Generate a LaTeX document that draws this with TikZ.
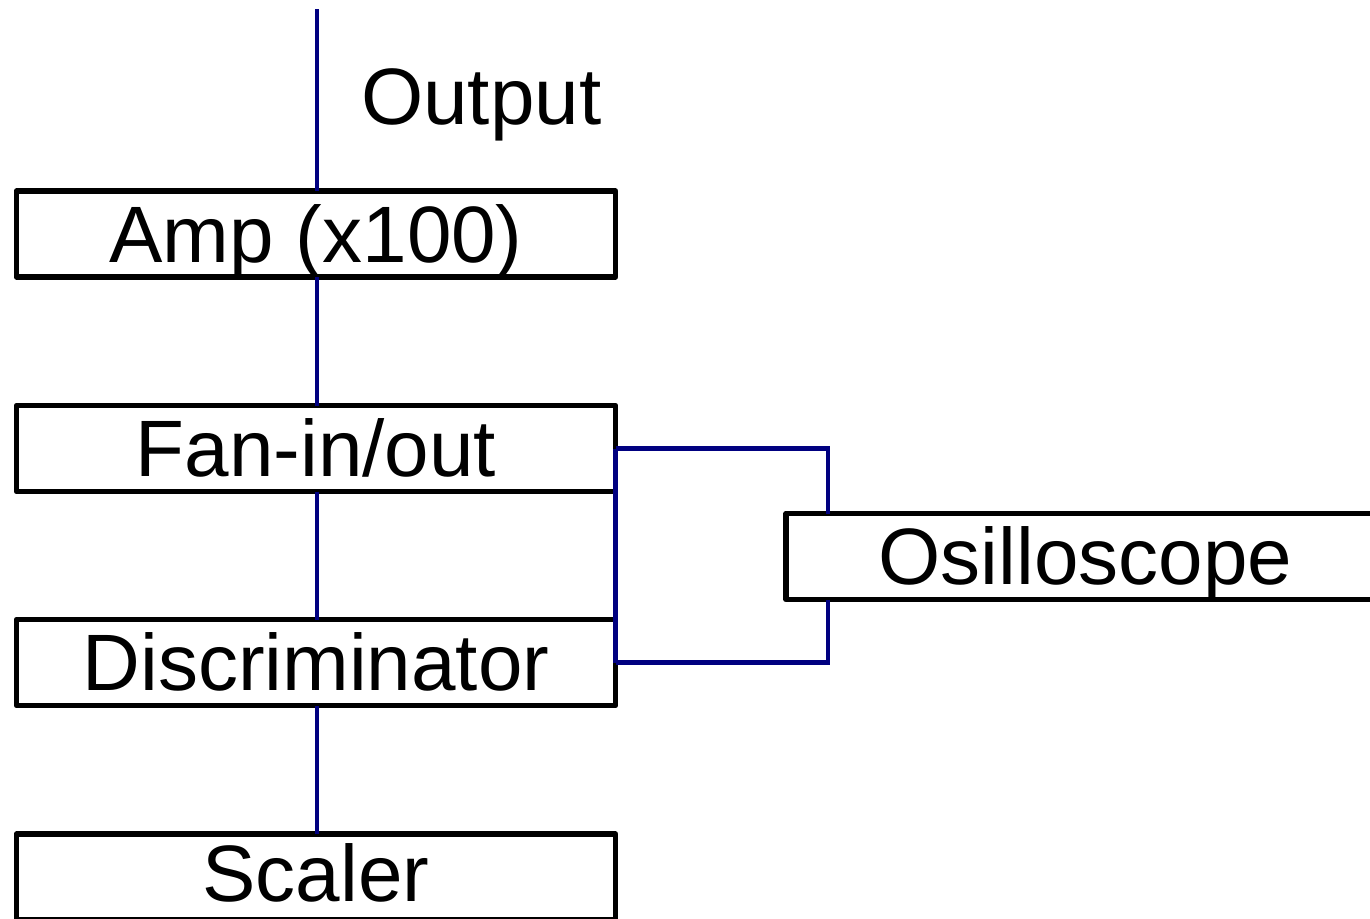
\documentclass[tikz,border=0pt]{standalone}
\usepackage{fontspec}
\setmainfont{Liberation Sans}
\definecolor{wirecol}{RGB}{0,0,128}
\begin{document}
\begin{tikzpicture}[x=1pt,y=-1pt,
  big/.style={font=\fontsize{80}{92}\selectfont},
  caption/.style={big, inner sep=0pt, outer sep=0pt, text height=56pt, text depth=0pt},
  unit/.style={caption, draw=black, line width=5.5pt, line join=round,
    minimum width=599pt, minimum height=86pt},
  wire/.style={draw=wirecol, line width=4.8pt, line join=miter}]
\useasboundingbox (0,0) rectangle (1370,918);

% signal chain
\node[unit] (amp)    at (316,234)   {Amp (x100)};
\node[unit] (fan)    at (316,448.5) {Fan-in/out};
\node[unit] (disc)   at (316,662.5) {Discriminator};
\node[unit] (scaler) at (316,877)   {};
\node[caption, yshift=4pt] (scalertxt) at (scaler.center) {Scaler};
\node[unit] (osc)    at (1085.5,556.5) {Osilloscope};

\coordinate (in) at (317,9);
\coordinate (probe) at (828,0);
\node[big, anchor=base west, inner sep=0pt] (outlbl) at (361,124) {Output};

% cables
\draw[wire] (in) -- (in |- amp.north);
\draw[wire] (in |- amp.south) -- (in |- fan.north);
\draw[wire] (in |- fan.south) -- (in |- disc.north);
\draw[wire] (in |- disc.south) -- (in |- scaler.north);
\draw[wire] (fan.east) -- (fan.east -| probe) -- (probe |- osc.north);
\draw[wire] (probe |- osc.south) -- (disc.east -| probe) -- (disc.east);
\draw[wire] (fan.east) -- (disc.east);
\end{tikzpicture}
\end{document}
